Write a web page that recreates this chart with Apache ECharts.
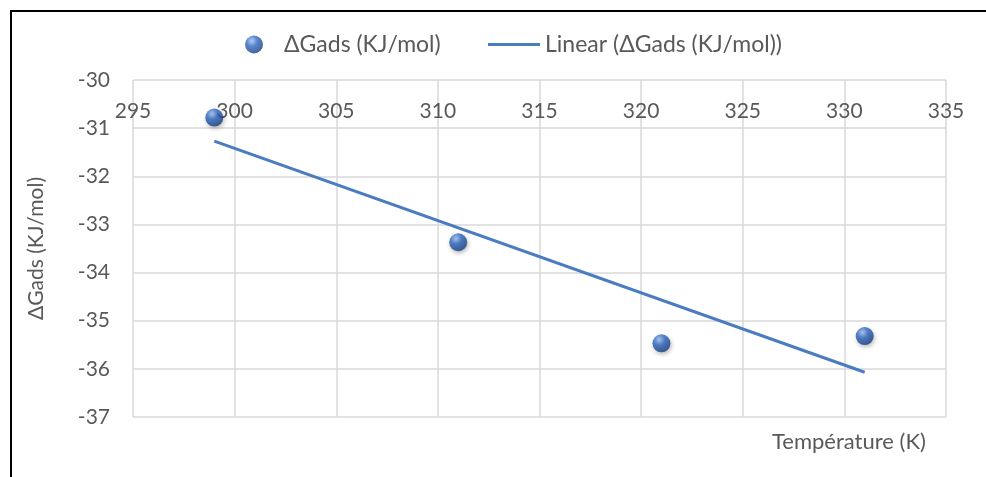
<!DOCTYPE html>
<html>
<head>
<meta charset="utf-8">
<script src="https://cdn.jsdelivr.net/npm/echarts@6/dist/echarts.min.js"></script>
<style>
  html, body { margin: 0; padding: 0; background: #fff; }
  #chart { width: 986px; height: 477px; }
</style>
</head>
<body>
<div id="chart"></div>
<script>
// Adsorption free energy versus temperature
const temperatures = [299, 311, 321, 331];
const deltaG = [-30.78, -33.37, -35.47, -35.32];
// Linear trendline end points (T, ΔG)
const trendT = [299, 331];
const trendG = [-31.27, -36.07];

const xTicks = { min: 295, max: 335, step: 5 };
const yTicks = { min: -37, max: -30, step: 1 };

const seriesName = 'ΔGads (KJ/mol)';
const trendName = 'Linear (ΔGads (KJ/mol))';

const FONT = 'Lato, "Open Sans", sans-serif';
const TEXT = '#595959';
const GRID = '#d9d9d9';
const BLUE = '#4a7cc0';

// shaded sphere look for the data points
const sphere = {
  type: 'radial', x: 0.38, y: 0.3, r: 0.75,
  colorStops: [
    { offset: 0, color: '#9cc2f2' },
    { offset: 0.4, color: '#2f68c2' },
    { offset: 1, color: '#15397a' }
  ]
};

const chart = echarts.init(document.getElementById('chart'), null, { renderer: 'canvas' });

chart.setOption({
  animation: false,
  backgroundColor: '#ffffff',
  textStyle: { fontFamily: FONT },
  grid: { left: 133, right: 40, top: 80, bottom: 60, containLabel: false },
  legend: [
    {
      data: [{ name: seriesName, icon: 'circle' }],
      left: 240, top: 28,
      itemWidth: 50, itemHeight: 18,
      textStyle: { color: TEXT, fontSize: 23, fontFamily: FONT }
    },
    {
      data: [{ name: trendName, icon: 'rect' }],
      left: 483, top: 28,
      itemWidth: 52, itemHeight: 3,
      textStyle: { color: TEXT, fontSize: 23, fontFamily: FONT }
    }
  ],
  title: {
    text: 'Température (K)',
    left: 767, top: 426,
    textStyle: { color: TEXT, fontSize: 22, fontWeight: 'normal', fontFamily: FONT }
  },
  xAxis: {
    type: 'value',
    position: 'top',
    min: xTicks.min, max: xTicks.max, interval: xTicks.step,
    axisLine: { show: false },
    axisTick: { show: false },
    axisLabel: { inside: true, margin: 21, color: TEXT, fontSize: 21, fontFamily: FONT },
    splitLine: { show: true, lineStyle: { color: GRID, width: 1.5 } }
  },
  yAxis: {
    type: 'value',
    min: yTicks.min, max: yTicks.max, interval: yTicks.step,
    name: seriesName,
    nameLocation: 'middle',
    nameGap: 86,
    nameTextStyle: { color: TEXT, fontSize: 21, fontFamily: FONT },
    axisLine: { show: false },
    axisTick: { show: false },
    axisLabel: { margin: 23, color: TEXT, fontSize: 21, fontFamily: FONT },
    splitLine: { show: true, lineStyle: { color: GRID, width: 1.5 } }
  },
  graphic: [
    { type: 'line', shape: { x1: 11, y1: 10, x2: 11, y2: 477 }, style: { stroke: '#000', lineWidth: 2 }, silent: true },
    { type: 'line', shape: { x1: 10, y1: 11, x2: 986, y2: 11 }, style: { stroke: '#000', lineWidth: 2 }, silent: true }
  ],
  series: [
    {
      name: trendName,
      type: 'line',
      data: trendT.map((t, i) => [t, trendG[i]]),
      symbol: 'none',
      lineStyle: { color: BLUE, width: 3 },
      itemStyle: { color: BLUE },
      z: 2
    },
    {
      name: seriesName,
      type: 'scatter',
      data: temperatures.map((t, i) => [t, deltaG[i]]),
      symbol: 'circle',
      symbolSize: 18,
      itemStyle: {
        color: sphere,
        shadowColor: 'rgba(0,0,0,0.35)',
        shadowBlur: 4,
        shadowOffsetX: 1,
        shadowOffsetY: 2
      },
      z: 3
    }
  ]
});
</script>
</body>
</html>
